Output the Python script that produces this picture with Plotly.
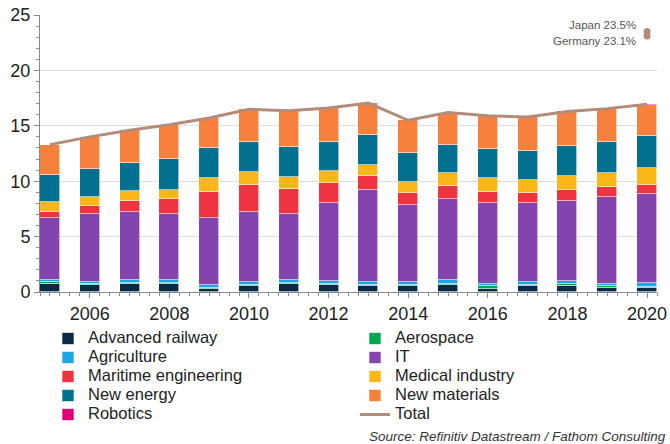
import plotly.graph_objects as go

# Yearly values, percentage points, stacked by sector
years = list(range(2005, 2021))

advanced_railway = [0.75, 0.65, 0.75, 0.70, 0.30, 0.55, 0.75, 0.60, 0.50, 0.55, 0.60, 0.30, 0.55, 0.55, 0.40, 0.40]
aerospace        = [0.15, 0.10, 0.10, 0.15, 0.10, 0.10, 0.10, 0.10, 0.10, 0.10, 0.15, 0.20, 0.10, 0.20, 0.10, 0.05]
agriculture      = [0.15, 0.15, 0.20, 0.20, 0.20, 0.25, 0.20, 0.25, 0.30, 0.25, 0.30, 0.25, 0.25, 0.25, 0.25, 0.35]
it_sector        = [5.60, 6.10, 6.20, 5.95, 6.10, 6.30, 5.95, 7.10, 8.30, 6.95, 7.30, 7.25, 7.10, 7.20, 7.80, 8.05]
maritime         = [0.55, 0.75, 0.95, 1.35, 2.30, 2.45, 2.30, 1.80, 1.25, 1.05, 1.25, 1.00, 0.95, 1.00, 0.90, 0.85]
medical          = [0.90, 0.85, 0.90, 0.90, 1.25, 1.15, 1.10, 1.10, 1.05, 1.00, 1.15, 1.25, 1.20, 1.30, 1.30, 1.50]
new_energy       = [2.45, 2.50, 2.55, 2.75, 2.75, 2.75, 2.65, 2.55, 2.70, 2.65, 2.55, 2.70, 2.55, 2.65, 2.80, 2.90]
new_materials    = [2.75, 2.90, 2.95, 3.10, 2.70, 2.95, 3.30, 3.10, 2.85, 2.95, 2.90, 2.95, 3.10, 3.15, 2.95, 2.80]
robotics         = [0.00, 0.00, 0.00, 0.00, 0.00, 0.00, 0.00, 0.00, 0.00, 0.00, 0.00, 0.00, 0.00, 0.00, 0.05, 0.05]
total            = [13.30, 14.00, 14.60, 15.10, 15.70, 16.50, 16.35, 16.60, 17.05, 15.50, 16.20, 15.90, 15.80, 16.30, 16.55, 16.95]

# Comparison points shown at the latest year
peer_names = ["Japan", "Germany"]
peer_values = [23.5, 23.1]
peer_year = 2020

series = [
    ("Advanced railway", advanced_railway, "#0b2a45"),
    ("Aerospace", aerospace, "#00a84f"),
    ("Agriculture", agriculture, "#1ea5e3"),
    ("IT", it_sector, "#8444ae"),
    ("Maritime engineering", maritime, "#ef3340"),
    ("Medical industry", medical, "#fbb717"),
    ("New energy", new_energy, "#02718f"),
    ("New materials", new_materials, "#f7813c"),
    ("Robotics", robotics, "#e2007a"),
]

FONT = "Liberation Sans, Arial, sans-serif"


def legend_label(text):
    return f'<span style="font-size:16.5px">{text}</span>'


fig = go.Figure()

for name, vals, color in series:
    fig.add_trace(go.Bar(
        x=years, y=vals, name=legend_label(name),
        marker=dict(color=color, line=dict(color="rgba(255,255,255,0.75)", width=0.8)),
        width=0.5,
    ))

fig.add_trace(go.Scatter(
    x=years, y=total, name=legend_label("Total"), mode="lines",
    line=dict(color="#b38b7b", width=3),
))

fig.add_trace(go.Scatter(
    x=[peer_year] * len(peer_values), y=peer_values, mode="markers",
    marker=dict(color="#b48c7c", size=7),
    showlegend=False,
))

label_shifts = [7, -5]
for nm, v, dy in zip(peer_names, peer_values, label_shifts):
    fig.add_annotation(
        x=peer_year, y=v, text=f"{nm} {v}%", showarrow=False,
        xanchor="right", yanchor="middle", xshift=-9, yshift=dy,
        font=dict(family=FONT, size=11.5, color="#555555"),
    )

fig.add_annotation(
    xref="paper", yref="paper", x=1.018, y=-0.522,
    text="<i>Source: Refinitiv Datastream / Fathom Consulting</i>",
    showarrow=False, xanchor="right", yanchor="middle",
    font=dict(family=FONT, size=13.5, color="#333333"),
)

fig.update_layout(
    width=670, height=444,
    margin=dict(l=40, r=13, t=14.5, b=152, autoexpand=False),
    paper_bgcolor="white", plot_bgcolor="white",
    barmode="stack", bargap=0,
    font=dict(family=FONT, color="#222222"),
    showlegend=True,
    legend=dict(
        orientation="h", xref="container", yref="container",
        x=48 / 670, y=1 - 324 / 444, xanchor="left", yanchor="top",
        entrywidth=262, entrywidthmode="pixels",
        font=dict(family=FONT, size=12, color="#222222"),
        traceorder="normal", bgcolor="rgba(0,0,0,0)",
    ),
    xaxis=dict(
        range=[2004.75, 2020.25],
        tickvals=list(range(2006, 2021, 2)),
        ticks="outside", ticklen=5, tickcolor="#888888",
        showline=True, linecolor="#888888", linewidth=1,
        showgrid=False, zeroline=False,
        tickfont=dict(family=FONT, size=18, color="#222222"),
        minor=dict(tick0=2004.75, dtick=0.25, ticks="outside", ticklen=3, tickcolor="#888888", showgrid=False),
    ),
    yaxis=dict(
        range=[0, 25], dtick=5,
        ticks="outside", ticklen=5, tickcolor="#888888",
        showline=True, linecolor="#888888", linewidth=1,
        showgrid=True, gridcolor="#dddddd", gridwidth=1, zeroline=False,
        tickfont=dict(family=FONT, size=18, color="#222222"),
        minor=dict(dtick=1, ticks="outside", ticklen=3, tickcolor="#888888", showgrid=False),
    ),
)

fig.write_html("out.html")
